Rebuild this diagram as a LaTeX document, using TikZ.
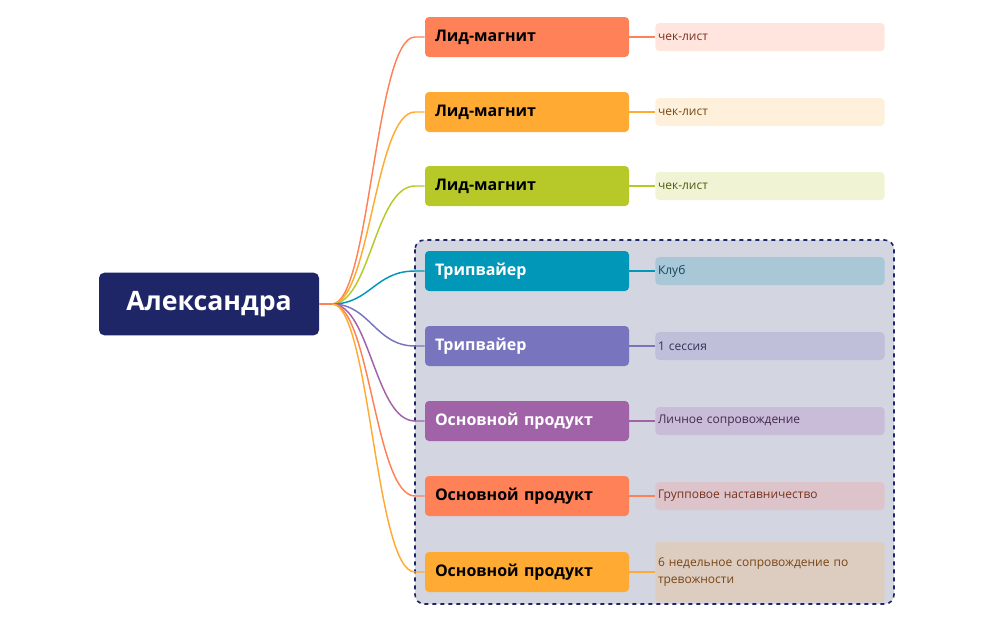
\documentclass[tikz,border=0pt]{standalone}
\usepackage{fontspec}
\setmainfont{Open Sans}
\begin{document}
\begin{tikzpicture}[x=0.75pt,y=-0.75pt,
 br/.style={rounded corners=3pt,minimum width=153pt,minimum height=30pt,inner sep=0pt,font=\bfseries\fontsize{12}{14}\selectfont,text width=138pt,align=left},
 lf/.style={rounded corners=3pt,minimum width=172pt,minimum height=21pt,inner sep=0pt,font=\fontsize{9}{12.5}\selectfont,text width=168pt,align=left},
 cn/.style={line width=1.1pt}]
\useasboundingbox (0,0) rectangle (1003,621);
\definecolor{cA}{HTML}{FF8157}\definecolor{cB}{HTML}{FFAA33}\definecolor{cC}{HTML}{B7C928}
\definecolor{cD}{HTML}{0097B8}\definecolor{cE}{HTML}{7874BE}\definecolor{cF}{HTML}{A163A8}
\definecolor{fA}{HTML}{FFE5DD}\definecolor{fB}{HTML}{FFF0DB}\definecolor{fC}{HTML}{F1F4D4}
\definecolor{fD}{HTML}{A8C8D8}\definecolor{fE}{HTML}{BFBFDA}\definecolor{fF}{HTML}{C9BCD8}
\definecolor{fG}{HTML}{DCC4CA}\definecolor{fH}{HTML}{DDCCC0}
\definecolor{tA}{HTML}{78321E}\definecolor{tB}{HTML}{784614}\definecolor{tC}{HTML}{505A14}
\definecolor{tD}{HTML}{14465A}\definecolor{tE}{HTML}{32325A}\definecolor{tF}{HTML}{462850}
\definecolor{grp}{HTML}{D3D5E1}\definecolor{navy}{HTML}{1F2667}
\fill[fill=grp,draw=navy,dashed,line width=1.2pt,rounded corners=7pt] (415,240) rectangle (894,604);
\node[rounded corners=4pt,fill=navy,minimum width=165pt,minimum height=47pt,text=white,font=\bfseries\fontsize{20}{24}\selectfont] (root) at (209,304) {Александра};
\coordinate (hub) at (332,304);
\draw[cn,cA] (root.east) -- (hub);
\foreach \i/\y/\c/\t/\tc/\lf/\ltc/\lt in {
1/37/cA/Лид-магнит/black/fA/tA/чек-лист,
2/112/cB/Лид-магнит/black/fB/tB/чек-лист,
3/186/cC/Лид-магнит/black/fC/tC/чек-лист,
4/271/cD/Трипвайер/white/fD/tD/Клуб,
5/346/cE/Трипвайер/white/fE/tE/1 сессия,
6/421/cF/Основной продукт/white/fF/tF/Личное сопровождение,
7/496/cA/Основной продукт/black/fG/tA/Групповое наставничество}{
 \node[br,fill=\c,text=\tc] (b\i) at (527,\y) {\t};
 \node[lf,fill=\lf,text=\ltc] (l\i) at (770,\y) {\lt};
 \coordinate (k\i) at (415,\y);
 \draw[cn,\c] (hub) .. controls (370,304) and (375,\y) .. (k\i) -- (b\i.west);
 \draw[cn,\c] (b\i.east) -- (l\i.west);
}
\node[br,fill=cB,text=black] (b8) at (527,572) {Основной продукт};
\node[lf,fill=fH,text=tB,minimum height=45pt] (l8) at (770,572) {6 недельное сопровождение по тревожности};
\coordinate (k8) at (415,572);
\draw[cn,cB] (hub) .. controls (370,304) and (375,572) .. (k8) -- (b8.west);
\draw[cn,cB] (b8.east) -- (l8.west);
\end{tikzpicture}
\end{document}
